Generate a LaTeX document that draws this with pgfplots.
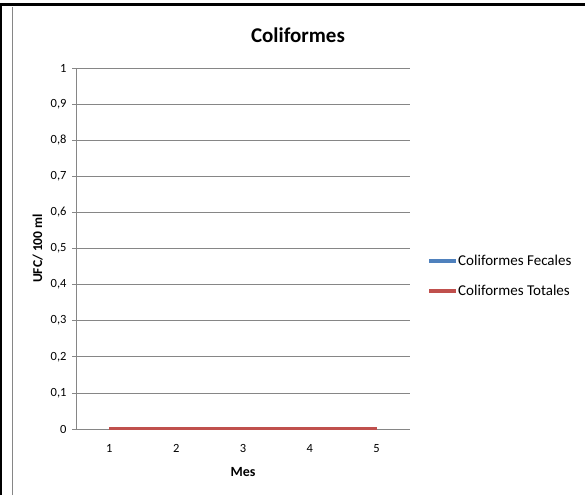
\documentclass[border=0pt]{standalone}
\usepackage{fontspec}
\setmainfont{Carlito}
\usepackage{pgfplots}
\pgfplotsset{compat=1.18}
\definecolor{xlblue}{HTML}{4F81BD}
\definecolor{xlred}{HTML}{C0504D}
\definecolor{xlgray}{HTML}{868686}
\begin{document}
\begin{tikzpicture}[x=1pt,y=1pt]
\path[use as bounding box] (0,0) rectangle (585,495);
\fill[white] (0,0) rectangle (585,495);
\draw[xlgray, line width=1pt] (12.5,0) -- (12.5,488);
\draw[black, line width=3pt] (0,490.5) -- (585,490.5);
\draw[black, line width=2pt] (1,0) -- (1,492);
\node[font=\fontsize{21}{24}\selectfont\bfseries] at (298,460) {Coliformes};
\begin{axis}[
  at={(76pt,66pt)}, anchor=south west, scale only axis,
  width=334pt, height=361pt,
  xmin=0.5, xmax=5.5, ymin=0, ymax=1,
  xtick={1,2,3,4,5},
  ytick={0,0.1,0.2,0.3,0.4,0.5,0.6,0.7,0.8,0.9,1},
  axis x line*=bottom, axis y line*=left,
  axis line style={xlgray, line width=0.8pt, -},
  ymajorgrids, major grid style={xlgray, line width=0.8pt},
  major x tick style={draw=none},
  major y tick style={xlgray, line width=0.8pt},
  tick align=outside, major tick length=4pt,
  /pgf/number format/assume math mode=true,
  /pgf/number format/use comma,
  /pgf/number format/fixed,
  /pgf/number format/precision=1,
  ticklabel style={font=\fontsize{12.5}{14}\selectfont},
  xticklabel style={yshift=-8pt},
  yticklabel style={xshift=-2pt},
  xlabel={Mes}, ylabel={UFC/ 100 ml},
  xlabel style={font=\fontsize{14}{16}\selectfont\bfseries, yshift=-8pt},
  ylabel style={font=\fontsize{13.5}{16}\selectfont\bfseries, yshift=1pt},
  legend style={at={(1.042,0.424)}, anchor=west, draw=none, fill=none,
    font=\fontsize{15}{17}\selectfont, row sep=14pt,
    /tikz/every odd column/.append style={column sep=0pt},
    nodes={inner xsep=0pt}},
  legend cell align=left,
]
\addplot[xlblue, line width=4pt, legend image code/.code={\draw[xlblue, line width=4pt] (0pt,0pt) -- (27pt,0pt);}] coordinates {(1,0) (2,0) (3,0) (4,0) (5,0)};
\addlegendentry{Coliformes Fecales}
\addplot[xlred, line width=4pt, legend image code/.code={\draw[xlred, line width=4pt] (0pt,0pt) -- (27pt,0pt);}] coordinates {(1,0) (2,0) (3,0) (4,0) (5,0)};
\addlegendentry{Coliformes Totales}
\end{axis}
\end{tikzpicture}
\end{document}
